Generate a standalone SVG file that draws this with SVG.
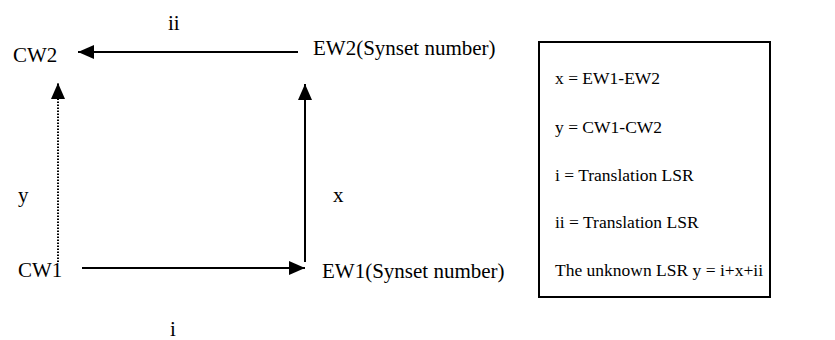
<svg xmlns="http://www.w3.org/2000/svg" width="835" height="340" viewBox="0 0 835 340">
<defs>
<style>
text{font-family:"Liberation Serif","Times New Roman",serif;font-size:21px;fill:#000}
.lg{font-size:17.5px}
.ln{stroke:#000;stroke-width:2;fill:none}
.dot{stroke:#000;stroke-width:2;stroke-dasharray:1.5 1.5;fill:none}
</style>
<marker id="ah" viewBox="0 0 16 14" refX="16" refY="7" markerWidth="16" markerHeight="14" markerUnits="userSpaceOnUse" orient="auto">
<path d="M0,0 L16,7 L0,14 Z" fill="#000"/>
</marker>
</defs>
<rect width="835" height="340" fill="#fff"/>
<g id="connectors">
<line class="ln" x1="298" y1="52" x2="78" y2="52" marker-end="url(#ah)"/>
<line class="dot" x1="58" y1="262" x2="58" y2="83" marker-end="url(#ah)"/>
<line class="ln" x1="305" y1="262" x2="305" y2="84" marker-end="url(#ah)"/>
<line class="ln" x1="82" y1="268" x2="305" y2="268" marker-end="url(#ah)"/>
<text x="168" y="30">ii</text>
<text x="18" y="202">y</text>
<text x="333" y="202">x</text>
<text x="170" y="336">i</text>
</g>
<g id="CW2"><text x="13" y="62">CW2</text></g>
<g id="EW2"><text x="313" y="55">EW2(Synset number)</text></g>
<g id="CW1"><text x="18" y="277">CW1</text></g>
<g id="EW1"><text x="322" y="278">EW1(Synset number)</text></g>
<g id="legend">
<rect x="539" y="42" width="231" height="255" fill="none" stroke="#000" stroke-width="2"/>
<g class="lg">
<text class="lg" x="555" y="84">x = EW1-EW2</text>
<text class="lg" x="555" y="133">y = CW1-CW2</text>
<text class="lg" x="555" y="181">i = Translation LSR</text>
<text class="lg" x="555" y="228">ii = Translation LSR</text>
<text class="lg" x="555" y="276">The unknown LSR y = i+x+ii</text>
</g>
</g>
</svg>
